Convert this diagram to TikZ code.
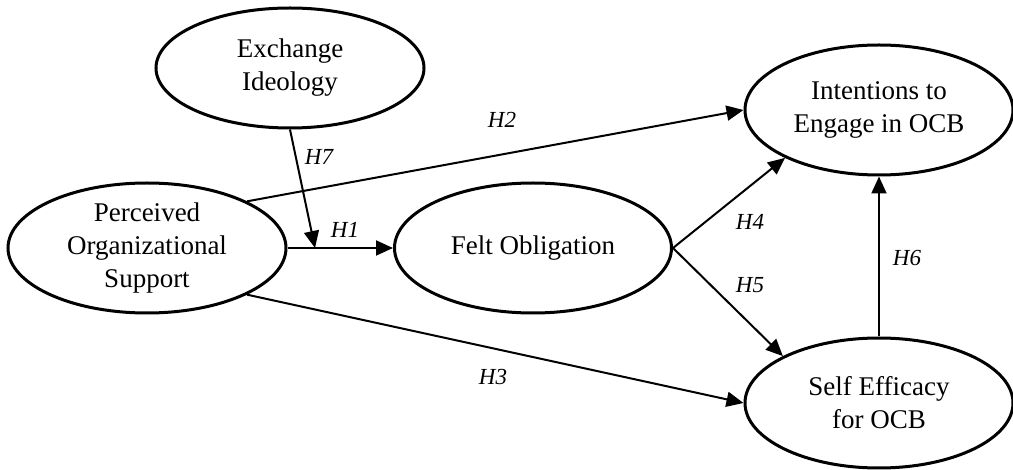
\documentclass[tikz,border=0pt]{standalone}
\usepackage{fontspec}
\setmainfont{Liberation Serif}
\usetikzlibrary{shapes.geometric,arrows.meta}
\tikzset{
  construct/.style={ellipse, draw, line width=3pt, inner sep=0pt, align=center,
    font=\fontsize{27}{33}\selectfont},
  path/.style={line width=2pt, -{Triangle[length=17pt,width=15pt]}},
  hlabel/.style={font=\fontsize{23}{26}\selectfont\itshape, inner sep=0pt}
}
\begin{document}
\begin{tikzpicture}[x=1pt,y=-1pt]
\useasboundingbox (0,0) rectangle (1013,470);
\node[construct, minimum width=268pt, minimum height=120pt] (EI) at (290,68) {Exchange\\Ideology};
\node[construct, minimum width=278pt, minimum height=130pt] (POS) at (147,248) {Perceived\\Organizational\\Support};
\node[construct, minimum width=277pt, minimum height=130pt] (FO) at (533,248) {Felt Obligation};
\node[construct, minimum width=268pt, minimum height=130pt] (IE) at (879,110) {Intentions to\\Engage in OCB};
\node[construct, minimum width=268pt, minimum height=130pt] (SE) at (879,403) {Self Efficacy\\for OCB};
\coordinate (mod) at (315,248);
\draw[path] (POS.east) -- (FO.west);
\draw[path] (EI.south) -- (mod);
\draw[path] (POS.25) -- (IE.west);
\draw[path] (POS.-25) -- (SE.west);
\draw[path] (FO.east) -- (IE.207);
\draw[path] (FO.east) -- (SE.154);
\draw[path] (SE.north) -- (IE.south);
\node[hlabel] (h1) at (345,230) {H1};
\node[hlabel] (h2) at (502,120) {H2};
\node[hlabel] (h3) at (493,377) {H3};
\node[hlabel] (h4) at (750,222) {H4};
\node[hlabel] (h5) at (750,285) {H5};
\node[hlabel] (h6) at (907,258) {H6};
\node[hlabel] (h7) at (319,157) {H7};
\end{tikzpicture}
\end{document}
